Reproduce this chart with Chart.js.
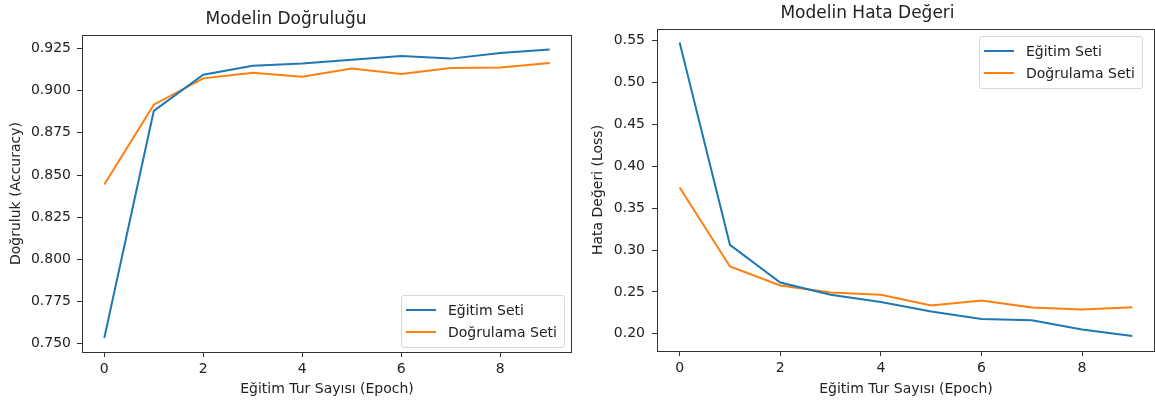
<!DOCTYPE html>
<html>
<head>
<meta charset="utf-8">
<script src="https://cdn.jsdelivr.net/npm/chart.js@4.4.1/dist/chart.umd.min.js"></script>
<style>
  body { margin: 0; background: #fff; }
  #wrap { position: relative; width: 1155px; height: 406px; overflow: hidden; }
  canvas { position: absolute; top: 0; }
  #accChart { left: 0; }
  #lossChart { left: 580px; }
  .legend {
    position: absolute;
    border: 1px solid #d8d8d8;
    border-radius: 3px;
    background: rgba(255, 255, 255, 0.8);
    font: 14px "DejaVu Sans";
    color: #222;
    padding: 3px 7px 4px 0;
  }
  .legend div { position: relative; height: 22px; line-height: 22px; padding-left: 46px; white-space: nowrap; }
  .legend span { position: absolute; left: 4px; top: 10px; width: 30px; height: 2px; }
</style>
</head>
<body>
<div id="wrap">
  <canvas id="accChart" width="580" height="406"></canvas>
  <canvas id="lossChart" width="575" height="406"></canvas>
  <div class="legend" id="accLegend" style="left:401px; top:295px;"></div>
  <div class="legend" id="lossLegend" style="left:979px; top:36px;"></div>
</div>
<script>
// epochs
var epochs = [0, 1, 2, 3, 4, 5, 6, 7, 8, 9];
var xTicks = [0, 2, 4, 6, 8];

// accuracy
var trainAcc = [0.7534, 0.8880, 0.9094, 0.9148, 0.9161, 0.9183, 0.9205, 0.9190, 0.9223, 0.9244];
var valAcc = [0.8444, 0.8917, 0.9073, 0.9106, 0.9083, 0.9132, 0.9099, 0.9134, 0.9138, 0.9164];
var accTicks = [0.750, 0.775, 0.800, 0.825, 0.850, 0.875, 0.900, 0.925];
var accTickLabels = ["0.750", "0.775", "0.800", "0.825", "0.850", "0.875", "0.900", "0.925"];

// loss
var trainLoss = [0.5480, 0.3062, 0.2612, 0.2465, 0.2378, 0.2266, 0.2175, 0.2162, 0.2052, 0.1972];
var valLoss = [0.3746, 0.2803, 0.2576, 0.2493, 0.2465, 0.2338, 0.2398, 0.2314, 0.2290, 0.2316];
var lossTicks = [0.20, 0.25, 0.30, 0.35, 0.40, 0.45, 0.50, 0.55];
var lossTickLabels = ["0.20", "0.25", "0.30", "0.35", "0.40", "0.45", "0.50", "0.55"];

var seriesNames = ["Eğitim Seti", "Doğrulama Seti"];
var colors = ["#1f77b4", "#ff7f0e"];

var textColor = "#222";
var spineColor = "#333";
var font = { family: "DejaVu Sans", size: 14 };

function points(values) {
  return values.map(function (v, i) {
    return { x: epochs[i], y: v };
  });
}

// white plot area and the matplotlib style box round it
var boxPlugin = {
  id: "box",
  beforeDatasetsDraw: function (chart) {
    var a = chart.chartArea;
    var ctx = chart.ctx;
    ctx.save();
    ctx.fillStyle = "#fff";
    ctx.fillRect(a.left, a.top, a.right - a.left, a.bottom - a.top);
    ctx.restore();
  },
  afterDatasetsDraw: function (chart) {
    var a = chart.chartArea;
    var ctx = chart.ctx;
    ctx.save();
    ctx.strokeStyle = spineColor;
    ctx.lineWidth = 1;
    ctx.strokeRect(Math.round(a.left) + 0.5, Math.round(a.top) + 0.5,
      Math.round(a.right - a.left) - 1, Math.round(a.bottom - a.top));
    ctx.restore();
  }
};

function makeChart(canvas, opt) {
  return new Chart(canvas, {
    type: "line",
    data: {
      datasets: [
        { label: seriesNames[0], data: points(opt.train), borderColor: colors[0], backgroundColor: colors[0] },
        { label: seriesNames[1], data: points(opt.val), borderColor: colors[1], backgroundColor: colors[1] }
      ]
    },
    options: {
      responsive: false,
      animation: false,
      events: [],
      layout: { padding: { left: 0, right: opt.padRight, top: 0, bottom: 0 } },
      elements: {
        line: { borderWidth: 2, tension: 0 },
        point: { radius: 0 }
      },
      plugins: {
        legend: { display: false },
        tooltip: { enabled: false },
        title: {
          display: true,
          text: opt.title,
          color: textColor,
          font: { family: "DejaVu Sans", size: 17, weight: "normal" },
          padding: opt.titlePad
        }
      },
      scales: {
        x: {
          type: "linear",
          min: -0.45,
          max: 9.45,
          afterBuildTicks: function (scale) {
            scale.ticks = xTicks.map(function (v) { return { value: v }; });
          },
          afterFit: function (scale) { scale.height = opt.xHeight; },
          ticks: { color: textColor, font: font, padding: 4, maxRotation: 0, callback: function (v) { return String(v); } },
          grid: { drawOnChartArea: false, tickLength: 5, tickColor: spineColor },
          border: { display: false },
          title: { display: true, text: "Eğitim Tur Sayısı (Epoch)", color: textColor, font: font, padding: { top: 0, bottom: 8 } }
        },
        y: {
          type: "linear",
          min: opt.yMin,
          max: opt.yMax,
          afterBuildTicks: function (scale) {
            scale.ticks = opt.yTicks.map(function (v) { return { value: v }; });
          },
          afterFit: function (scale) { scale.width = opt.yWidth; },
          ticks: {
            color: textColor, font: font, padding: opt.yTickPad,
            callback: function (v, i) { return opt.yLabels[i]; }
          },
          grid: { drawOnChartArea: false, tickLength: 5, tickColor: spineColor },
          border: { display: false },
          title: { display: true, text: opt.yTitle, color: textColor, font: font, padding: { top: opt.yTitlePad, bottom: 0 } }
        }
      }
    },
    plugins: [boxPlugin]
  });
}

function drawLegend(el, chart) {
  chart.data.datasets.forEach(function (ds) {
    var row = document.createElement("div");
    var sample = document.createElement("span");
    sample.style.background = ds.borderColor;
    row.append(sample);
    row.append(document.createTextNode(ds.label));
    el.append(row);
  });
}

var accChart = makeChart(document.getElementById("accChart"), {
  train: trainAcc, val: valAcc,
  title: "Modelin Doğruluğu",
  titlePad: { top: 9, bottom: 5.6 },
  yTitle: "Doğruluk (Accuracy)",
  yMin: 0.7451, yMax: 0.9330,
  yTicks: accTicks, yLabels: accTickLabels,
  yWidth: 82, yTickPad: 6, yTitlePad: 8,
  xHeight: 54, padRight: 8
});

var lossChart = makeChart(document.getElementById("lossChart"), {
  train: trainLoss, val: valLoss,
  title: "Modelin Hata Değeri",
  titlePad: { top: 3.5, bottom: 5.1 },
  yTitle: "Hata Değeri (Loss)",
  yMin: 0.1794, yMax: 0.5640,
  yTicks: lossTicks, yLabels: lossTickLabels,
  yWidth: 77, yTickPad: 7, yTitlePad: 10,
  xHeight: 55, padRight: 0
});

drawLegend(document.getElementById("accLegend"), accChart);
drawLegend(document.getElementById("lossLegend"), lossChart);
</script>
</body>
</html>
